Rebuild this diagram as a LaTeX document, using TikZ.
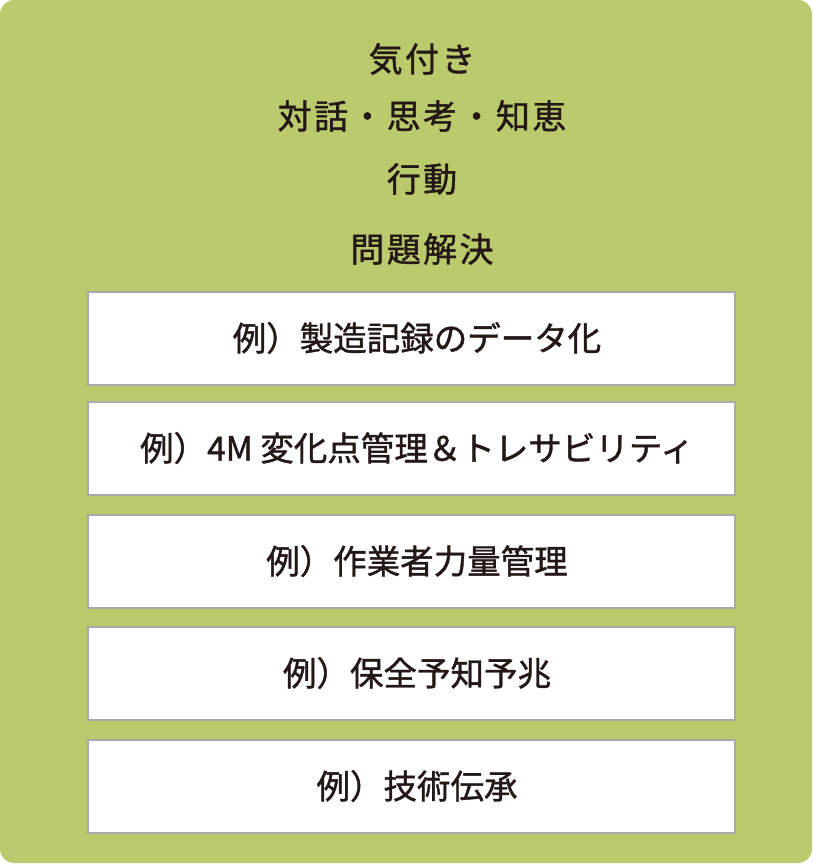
\documentclass[tikz,border=0pt]{standalone}
\usepackage{fontspec}
\newfontfamily\jpfont{Noto Sans CJK JP}[FakeBold=1.2]
\definecolor{leafgreen}{HTML}{BCCA6E}
\definecolor{inkdark}{HTML}{231815}
\definecolor{boxrule}{HTML}{A9A9A9}
\begin{document}
\begin{tikzpicture}[x=1pt, y=-1pt,
    every node/.style={text=inkdark, font=\jpfont\fontsize{33.5}{40}\selectfont},
    heading/.style={font=\jpfont\fontsize{34}{40}\selectfont\addfontfeature{LetterSpace=7}},
    examplebox/.style={draw=boxrule, line width=2pt, fill=white, minimum width=647pt, minimum height=93pt, inner sep=0pt,
        execute at begin node={\hspace*{11pt}}}]
        \useasboundingbox (0, 0) rectangle (812, 864);
        \fill [leafgreen, rounded corners=14pt] (0, 0) rectangle (812, 863);
        \node [heading] (notice) at (422, 59) {気付き};
        \node [heading] (dialogue) at (422, 116) {対話・思考・知恵};
        \node [heading] (action) at (422, 179) {行動};
        \node [heading] (solving) at (422, 249) {問題解決};
        \node [examplebox] (ex1) at (411.5, 338) {例）製造記録のデータ化};
        \node [examplebox] (ex2) at (411.5, 448) {例）4M 変化点管理＆トレサビリティ};
        \node [examplebox] (ex3) at (411.5, 561) {例）作業者力量管理};
        \node [examplebox] (ex4) at (411.5, 673) {例）保全予知予兆};
        \node [examplebox] (ex5) at (411.5, 786) {例）技術伝承};
    \end{tikzpicture}
\end{document}
